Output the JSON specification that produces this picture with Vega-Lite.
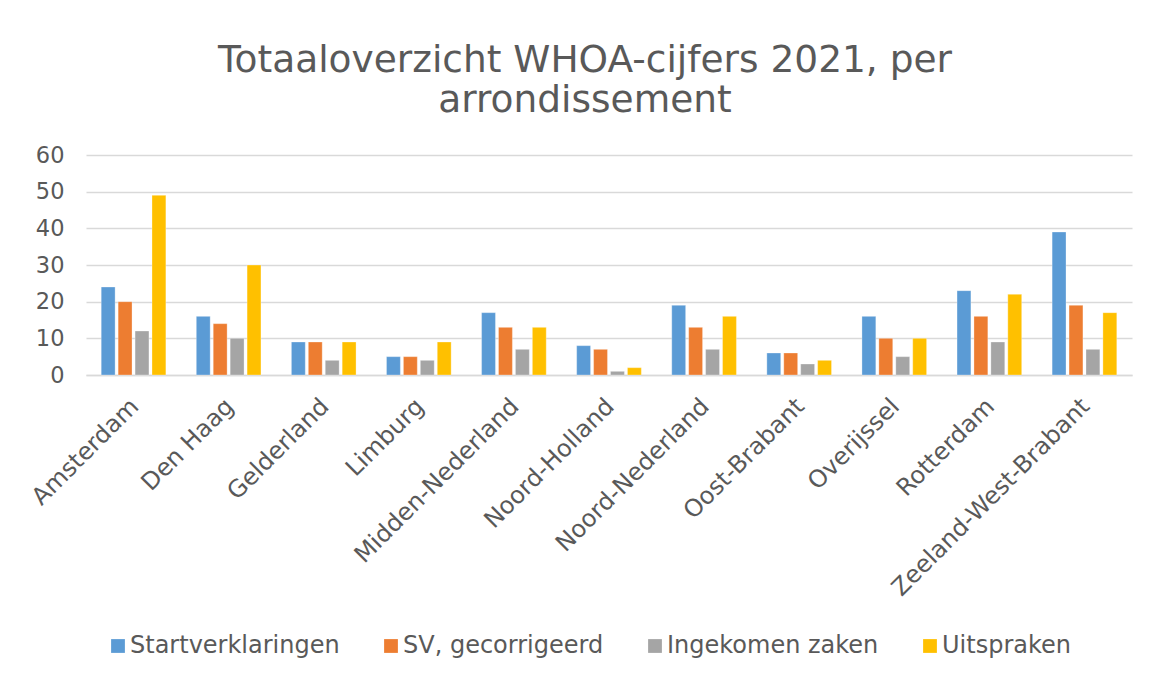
{
  "$schema": "https://vega.github.io/schema/vega-lite/v6.json",
  "width": 1046,
  "height": 220,
  "autosize": {"type": "none"},
  "padding": {"left": 86, "top": 155, "right": 17, "bottom": 300},
  "background": "white",
  "title": {
    "text": ["Totaaloverzicht WHOA-cijfers 2021, per", "arrondissement"],
    "fontSize": 37.5,
    "font": "DejaVu Sans",
    "fontWeight": "normal",
    "color": "#595959",
    "lineHeight": 40,
    "anchor": "middle",
    "frame": "group",
    "dx": -24,
    "offset": 25
  },
  "data": {
    "values": [
      {"arrondissement": "Amsterdam", "reeks": "Startverklaringen", "waarde": 24},
      {"arrondissement": "Amsterdam", "reeks": "SV, gecorrigeerd", "waarde": 20},
      {"arrondissement": "Amsterdam", "reeks": "Ingekomen zaken", "waarde": 12},
      {"arrondissement": "Amsterdam", "reeks": "Uitspraken", "waarde": 49},
      {"arrondissement": "Den Haag", "reeks": "Startverklaringen", "waarde": 16},
      {"arrondissement": "Den Haag", "reeks": "SV, gecorrigeerd", "waarde": 14},
      {"arrondissement": "Den Haag", "reeks": "Ingekomen zaken", "waarde": 10},
      {"arrondissement": "Den Haag", "reeks": "Uitspraken", "waarde": 30},
      {"arrondissement": "Gelderland", "reeks": "Startverklaringen", "waarde": 9},
      {"arrondissement": "Gelderland", "reeks": "SV, gecorrigeerd", "waarde": 9},
      {"arrondissement": "Gelderland", "reeks": "Ingekomen zaken", "waarde": 4},
      {"arrondissement": "Gelderland", "reeks": "Uitspraken", "waarde": 9},
      {"arrondissement": "Limburg", "reeks": "Startverklaringen", "waarde": 5},
      {"arrondissement": "Limburg", "reeks": "SV, gecorrigeerd", "waarde": 5},
      {"arrondissement": "Limburg", "reeks": "Ingekomen zaken", "waarde": 4},
      {"arrondissement": "Limburg", "reeks": "Uitspraken", "waarde": 9},
      {"arrondissement": "Midden-Nederland", "reeks": "Startverklaringen", "waarde": 17},
      {"arrondissement": "Midden-Nederland", "reeks": "SV, gecorrigeerd", "waarde": 13},
      {"arrondissement": "Midden-Nederland", "reeks": "Ingekomen zaken", "waarde": 7},
      {"arrondissement": "Midden-Nederland", "reeks": "Uitspraken", "waarde": 13},
      {"arrondissement": "Noord-Holland", "reeks": "Startverklaringen", "waarde": 8},
      {"arrondissement": "Noord-Holland", "reeks": "SV, gecorrigeerd", "waarde": 7},
      {"arrondissement": "Noord-Holland", "reeks": "Ingekomen zaken", "waarde": 1},
      {"arrondissement": "Noord-Holland", "reeks": "Uitspraken", "waarde": 2},
      {"arrondissement": "Noord-Nederland", "reeks": "Startverklaringen", "waarde": 19},
      {"arrondissement": "Noord-Nederland", "reeks": "SV, gecorrigeerd", "waarde": 13},
      {"arrondissement": "Noord-Nederland", "reeks": "Ingekomen zaken", "waarde": 7},
      {"arrondissement": "Noord-Nederland", "reeks": "Uitspraken", "waarde": 16},
      {"arrondissement": "Oost-Brabant", "reeks": "Startverklaringen", "waarde": 6},
      {"arrondissement": "Oost-Brabant", "reeks": "SV, gecorrigeerd", "waarde": 6},
      {"arrondissement": "Oost-Brabant", "reeks": "Ingekomen zaken", "waarde": 3},
      {"arrondissement": "Oost-Brabant", "reeks": "Uitspraken", "waarde": 4},
      {"arrondissement": "Overijssel", "reeks": "Startverklaringen", "waarde": 16},
      {"arrondissement": "Overijssel", "reeks": "SV, gecorrigeerd", "waarde": 10},
      {"arrondissement": "Overijssel", "reeks": "Ingekomen zaken", "waarde": 5},
      {"arrondissement": "Overijssel", "reeks": "Uitspraken", "waarde": 10},
      {"arrondissement": "Rotterdam", "reeks": "Startverklaringen", "waarde": 23},
      {"arrondissement": "Rotterdam", "reeks": "SV, gecorrigeerd", "waarde": 16},
      {"arrondissement": "Rotterdam", "reeks": "Ingekomen zaken", "waarde": 9},
      {"arrondissement": "Rotterdam", "reeks": "Uitspraken", "waarde": 22},
      {"arrondissement": "Zeeland-West-Brabant", "reeks": "Startverklaringen", "waarde": 39},
      {"arrondissement": "Zeeland-West-Brabant", "reeks": "SV, gecorrigeerd", "waarde": 19},
      {"arrondissement": "Zeeland-West-Brabant", "reeks": "Ingekomen zaken", "waarde": 7},
      {"arrondissement": "Zeeland-West-Brabant", "reeks": "Uitspraken", "waarde": 17}
    ]
  },
  "mark": {"type": "bar", "stroke": "white", "strokeWidth": 0.5, "strokeOpacity": 0.6},
  "encoding": {
    "x": {
      "field": "arrondissement",
      "type": "nominal",
      "sort": null,
      "title": null,
      "scale": {"paddingInner": 0.32, "paddingOuter": 0.16},
      "axis": {
        "labelAngle": -45,
        "labelFontSize": 24,
        "labelFont": "DejaVu Sans",
        "labelColor": "#595959",
        "labelPadding": 19,
        "labelOffset": -7,
        "labelLimit": 0,
        "labelBound": false,
        "labelOverlap": false,
        "ticks": false,
        "domain": true,
        "domainColor": "#D9D9D9",
        "domainWidth": 1.5
      }
    },
    "xOffset": {
      "field": "reeks",
      "type": "nominal",
      "sort": ["Startverklaringen", "SV, gecorrigeerd", "Ingekomen zaken", "Uitspraken"],
      "scale": {"paddingInner": 0.18, "paddingOuter": 0}
    },
    "y": {
      "field": "waarde",
      "type": "quantitative",
      "title": null,
      "scale": {"domain": [0, 60], "nice": false},
      "axis": {
        "values": [0, 10, 20, 30, 40, 50, 60],
        "labelFontSize": 22.5,
        "labelFont": "DejaVu Sans",
        "labelColor": "#595959",
        "labelPadding": 22,
        "ticks": false,
        "domain": false,
        "gridColor": "#D9D9D9",
        "gridWidth": 1.5
      }
    },
    "color": {
      "field": "reeks",
      "type": "nominal",
      "sort": ["Startverklaringen", "SV, gecorrigeerd", "Ingekomen zaken", "Uitspraken"],
      "scale": {
        "domain": ["Startverklaringen", "SV, gecorrigeerd", "Ingekomen zaken", "Uitspraken"],
        "range": ["#5B9BD5", "#ED7D31", "#A5A5A5", "#FFC000"]
      },
      "legend": {
        "title": null,
        "orient": "none",
        "direction": "horizontal",
        "legendX": 20,
        "legendY": 479,
        "symbolType": "square",
        "symbolSize": 190,
        "symbolStrokeWidth": 0,
        "labelFontSize": 24,
        "labelFont": "DejaVu Sans",
        "labelColor": "#595959",
        "labelOffset": 0,
        "labelLimit": 0,
        "columnPadding": 39
      }
    }
  },
  "config": {
    "view": {"stroke": null}
  }
}
